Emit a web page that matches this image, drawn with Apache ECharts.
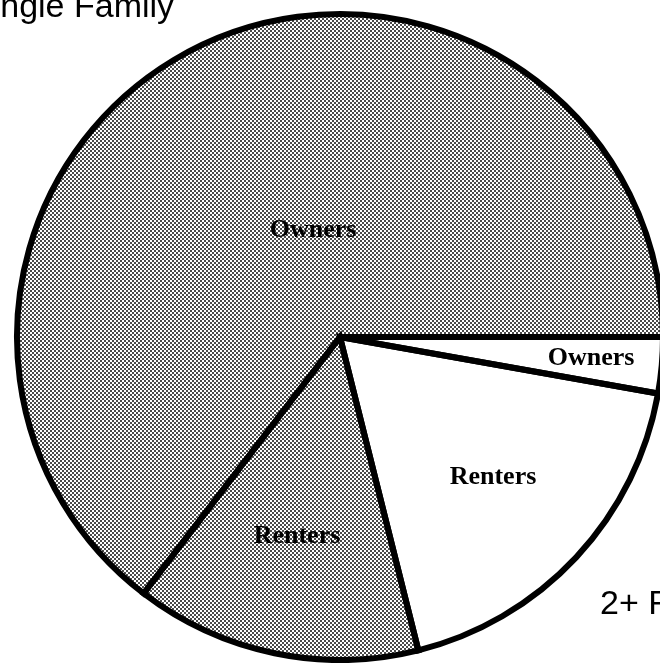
<!DOCTYPE html>
<html>
<head>
<meta charset="utf-8">
<script src="https://cdn.jsdelivr.net/npm/echarts@6/dist/echarts.min.js"></script>
<style>
  html, body { margin: 0; padding: 0; background: #fff; }
  #chart { width: 660px; height: 663px; }
</style>
</head>
<body>
<div id="chart"></div>
<script>
// share of households (%), slices go clockwise from 3 o'clock
const groups = ['2+ Family', '2+ Family', 'Single Family', 'Single Family']
const tenure = ['Owners', 'Renters', 'Renters', 'Owners']
const shares = [2.8, 18.3, 14.3, 64.6]
const groupTitles = ['Single Family', '2+ Family']

// where the slice names sit (the scan puts them by hand, not on the centroid)
const labelPos = [[591, 358], [493, 477], [297, 536], [313, 230]]

// halftone screen used for the single family slices
function halftone () {
  const c = document.createElement('canvas')
  c.width = 4
  c.height = 4
  const ctx = c.getContext('2d')
  ctx.fillStyle = '#fff'
  ctx.fillRect(0, 0, 4, 4)
  ctx.fillStyle = '#4a4a4a'
  ctx.fillRect(0, 0, 2, 2)
  ctx.fillRect(2, 2, 2, 2)
  return c
}

const screen = { image: halftone(), repeat: 'repeat' }

const fillData = shares.map((v, i) => ({
  name: groups[i] + ' ' + tenure[i],
  value: v,
  itemStyle: { color: groups[i] === 'Single Family' ? screen : '#fff' }
}))
const outlineData = shares.map((v, i) => ({ name: groups[i] + ' ' + tenure[i], value: v }))

const labelFont = 'bold 26px "Liberation Serif", "DejaVu Serif", serif'
const titleFont = '34px "Liberation Sans", Arial, sans-serif'

const graphics = tenure.map((t, i) => ({
  type: 'text',
  x: labelPos[i][0],
  y: labelPos[i][1],
  z: 10,
  style: { text: t, font: labelFont, fill: '#000', align: 'center', verticalAlign: 'middle' }
}))

graphics.push({
  type: 'text', x: -30, y: 8, z: 10,
  style: { text: groupTitles[0], font: titleFont, fill: '#000', align: 'left', verticalAlign: 'middle' }
})
graphics.push({
  type: 'text', x: 600, y: 605, z: 10,
  style: { text: groupTitles[1], font: titleFont, fill: '#000', align: 'left', verticalAlign: 'middle' }
})

const pieBase = {
  type: 'pie',
  center: [340, 337],
  radius: 323,
  startAngle: 0,
  clockwise: true,
  silent: true,
  label: { show: false },
  labelLine: { show: false },
  emphasis: { disabled: true }
}

const chart = echarts.init(document.getElementById('chart'))
chart.setOption({
  animation: false,
  backgroundColor: '#fff',
  series: [
    Object.assign({}, pieBase, {
      z: 1,
      itemStyle: { borderWidth: 0 },
      data: fillData
    }),
    // black outlines drawn on top so the screen never eats the strokes
    Object.assign({}, pieBase, {
      z: 2,
      itemStyle: { color: 'rgba(0,0,0,0)', borderColor: '#000', borderWidth: 6, borderJoin: 'miter' },
      data: outlineData
    })
  ],
  graphic: graphics
})
</script>
</body>
</html>
